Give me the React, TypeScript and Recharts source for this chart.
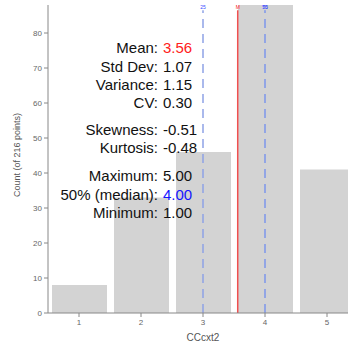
import React from "react"
import { Bar, BarChart, ReferenceLine, XAxis, YAxis } from "recharts"

// histogram of CCcxt2 (216 points)
const bins = [1, 2, 3, 4, 5]
const counts = [8, 33, 46, 88, 41]
const yTicks = [0, 10, 20, 30, 40, 50, 60, 70, 80]

const statLabels = ["Mean:", "Std Dev:", "Variance:", "CV:", "Skewness:", "Kurtosis:", "Maximum:", "50% (median):", "Minimum:"]
const statValues = ["3.56", "1.07", "1.15", "0.30", "-0.51", "-0.48", "5.00", "4.00", "1.00"]
const statColors = ["#ff2020", "#111", "#111", "#111", "#111", "#111", "#111", "#1515ff", "#111"]
const statRows = [48, 66.5, 84.5, 102.5, 129.5, 147.5, 176, 194.5, 213]

const mean = 3.56
const q1 = 3
const median = 4
const q3 = 4

const data = bins.map((b, i) => ({ bin: b, count: counts[i] }))

const tinyLabel = (text: string, color: string) => (props: any) => {
  const vb = props.viewBox || {}
  return (
    <text x={vb.x} y={(vb.y ?? 0) - 1.5} textAnchor="middle" fontSize={5} fontFamily="Liberation Sans, Arial" fill={color}>
      {text}
    </text>
  )
}

const yLabel = (props: any) => {
  const vb = props.viewBox || {}
  const cx = 17
  const cy = (vb.y ?? 0) + (vb.height ?? 0) / 2 - 4
  return (
    <text
      x={cx}
      y={cy}
      transform={`rotate(-90 ${cx} ${cy})`}
      textAnchor="middle"
      dominantBaseline="central"
      fontSize={9}
      fontFamily="Liberation Sans, Arial"
      fill="#555"
    >
      Count (of 216 points)
    </text>
  )
}

export default function App() {
  return (
    <div style={{ position: "absolute", left: 0, top: 0, width: 348, height: 347, overflow: "hidden", background: "#fff" }}>
      <BarChart
        width={360}
        height={347}
        data={data}
        margin={{ top: 5, right: 2, bottom: 0, left: 0 }}
      >
        <XAxis
          dataKey="bin"
          type="number"
          domain={[0.5, 5.5]}
          ticks={bins}
          height={34}
          tick={{ fontSize: 8, fill: "#666", fontFamily: "Liberation Sans, Arial" }}
          tickSize={4}
          stroke="#888"
          label={{ value: "CCcxt2", position: "insideBottom", offset: 6, fontSize: 10, fill: "#555", fontFamily: "Liberation Sans, Arial" }}
        />
        <YAxis
          domain={[0, 88]}
          ticks={yTicks}
          width={48}
          allowDataOverflow
          tick={{ fontSize: 8, fill: "#666", fontFamily: "Liberation Sans, Arial" }}
          tickSize={4}
          stroke="#888"
          label={yLabel}
        />
        <Bar dataKey="count" fill="#d3d3d3" barSize={55} isAnimationActive={false} />
        <ReferenceLine
          segment={[{ x: q1, y: 0 }, { x: q1, y: 86.5 }]}
          stroke="#8fa3e6"
          strokeWidth={1.5}
          strokeDasharray="9 6"
          label={tinyLabel("25", "#3a4cff")}
        />
        <ReferenceLine
          segment={[{ x: median, y: 0 }, { x: median, y: 86.5 }]}
          stroke="#8fa3e6"
          strokeWidth={1.5}
          strokeDasharray="9 6"
          label={tinyLabel("50", "#3a4cff")}
        />
        <ReferenceLine
          segment={[{ x: q3, y: 0 }, { x: q3, y: 86.5 }]}
          stroke="#8fa3e6"
          strokeWidth={1.5}
          strokeDasharray="9 6"
          label={tinyLabel("75", "#3a4cff")}
        />
        <ReferenceLine
          segment={[{ x: mean, y: 0 }, { x: mean, y: 86.5 }]}
          stroke="#f05050"
          strokeWidth={1.5}
          label={tinyLabel("M", "#ff2020")}
        />
      </BarChart>
      <svg width={348} height={347} style={{ position: "absolute", left: 0, top: 0, pointerEvents: "none" }}>
        {statLabels.map((lab, i) => (
          <g key={lab} fontFamily="Liberation Sans, Arial" fontSize={15}>
            <text x={158} y={statRows[i]} dy="0.35em" textAnchor="end" fill="#111">{lab}</text>
            <text x={163} y={statRows[i]} dy="0.35em" textAnchor="start" fill={statColors[i]}>{statValues[i]}</text>
          </g>
        ))}
      </svg>
    </div>
  )
}
